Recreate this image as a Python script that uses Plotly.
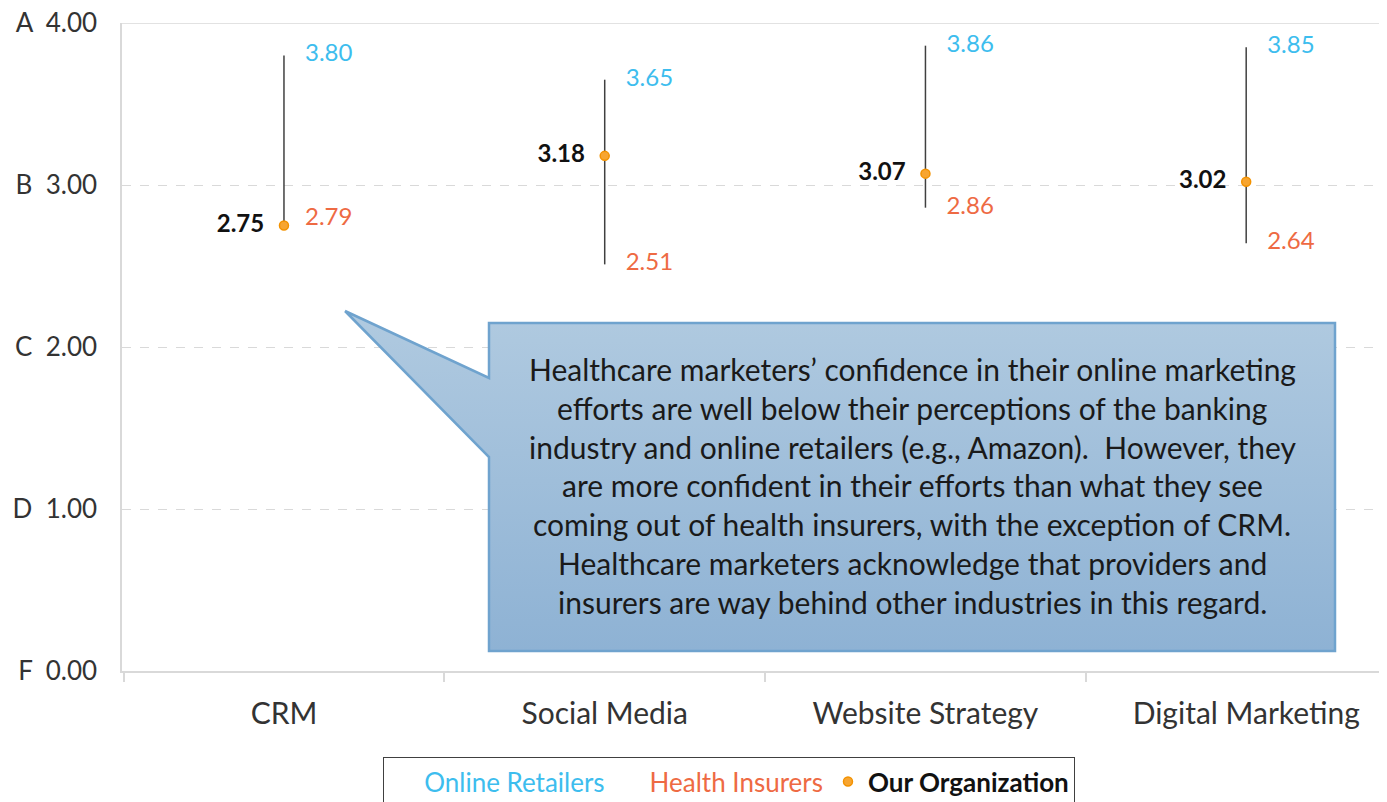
import plotly.graph_objects as go

categories = ["CRM", "Social Media", "Website Strategy", "Digital Marketing"]
online_retailers = [3.80, 3.65, 3.86, 3.85]
health_insurers = [2.79, 2.51, 2.86, 2.64]
our_organization = [2.75, 3.18, 3.07, 3.02]
y_tickvals = [0, 1, 2, 3, 4]
y_ticktext = ["F  0.00", "D  1.00", "C  2.00", "B  3.00", "A  4.00"]
callout_lines = [
    "Healthcare marketers’ confidence in their online marketing",
    "efforts are well below their perceptions of the banking",
    "industry and online retailers (e.g., Amazon).  However, they",
    "are more confident in their efforts than what they see",
    "coming out of health insurers, with the exception of CRM.",
    "Healthcare marketers acknowledge that providers and",
    "insurers are way behind other industries in this regard.",
]

FONT = "Lato"
W, H = 1387, 802
OFF = 8  # page body margin
ML, MR, MT, MB = 122 - OFF, OFF, 23 - OFF, 131 + OFF

xs = list(range(len(categories)))

fig = go.Figure()

# high-low lines
lx, ly = [], []
for i in xs:
    vals = [online_retailers[i], health_insurers[i], our_organization[i]]
    lx += [i, i, None]
    ly += [max(vals), min(vals), None]
fig.add_trace(go.Scatter(x=lx, y=ly, mode="lines", line=dict(color="#404040", width=1.5),
                         showlegend=False, hoverinfo="skip"))

# callout (pixel coordinates on overlay axes)
cx = [345, 489, 489, 1335, 1335, 489, 489, 345]
cy = [311, 378, 323, 323, 651, 651, 457, 311]
fig.add_trace(go.Scatter(x=cx, y=cy, xaxis="x2", yaxis="y2", mode="lines", fill="toself",
                         line=dict(color="#6FA3CE", width=2.5),
                         fillgradient=dict(type="vertical", start=311, stop=651,
                                           colorscale=[[0, "#B0CAE0"], [1, "#8EB2D4"]]),
                         showlegend=False, hoverinfo="skip"))

CLEAR = "rgba(0,0,0,0)"
fig.add_trace(go.Scatter(
    x=xs, y=online_retailers, mode="markers+text",
    name="<span style='color:#3DBDEE'>Online Retailers</span>",
    text=[f"{v:.2f}" for v in online_retailers], textposition="middle right",
    textfont=dict(family=FONT, size=24, color="#3DBDEE"),
    marker=dict(size=32, color=CLEAR, line=dict(width=0)), hoverinfo="skip"))
fig.add_trace(go.Scatter(
    x=xs, y=health_insurers, mode="markers+text",
    name="<span style='color:#EE6A43'>Health Insurers</span>",
    text=[f"{v:.2f}" for v in health_insurers], textposition="middle right",
    textfont=dict(family=FONT, size=24, color="#EE6A43"),
    marker=dict(size=32, color=CLEAR, line=dict(width=0)), hoverinfo="skip"))
fig.add_trace(go.Scatter(
    x=xs, y=our_organization, mode="markers+text", showlegend=False,
    text=[f"<b>{v:.2f}</b>" for v in our_organization], textposition="middle left",
    textfont=dict(family=FONT, size=24, color="#111111"),
    marker=dict(size=30, color=CLEAR, line=dict(width=0)), hoverinfo="skip"))
fig.add_trace(go.Scatter(
    x=xs, y=our_organization, mode="markers",
    name="<b><span style='color:#111111'>Our Organization</span></b>",
    marker=dict(size=9, color="#F7A531", line=dict(color="#F39200", width=1.5)),
    hoverinfo="skip"))

annotations = []
top_line = 369
step = 38.8
for k, t in enumerate(callout_lines):
    annotations.append(dict(
        x=912, y=top_line + k * step, xref="x2", yref="y2", text=t, showarrow=False,
        xanchor="center", yanchor="middle",
        font=dict(family=FONT, size=30, color="#1a1a1a")))

fig.update_layout(
    width=W, height=H,
    margin=dict(l=ML, r=MR, t=MT, b=MB, autoexpand=False),
    paper_bgcolor="white", plot_bgcolor="white",
    font=dict(family=FONT, color="#333333"),
    xaxis=dict(range=[-0.505, 3.439], tickmode="array", tickvals=xs, ticktext=categories,
               ticks="", showgrid=False, zeroline=False, showline=True,
               linecolor="#D9D9D9", linewidth=1.5,
               tickfont=dict(family=FONT, size=30, color="#333333"),
               ticklabelstandoff=15,
               minor=dict(tickmode="linear", tick0=0.5, dtick=1, ticks="outside",
                          ticklen=9, tickcolor="#D9D9D9", tickwidth=1.5, showgrid=False)),
    yaxis=dict(range=[0, 4], tickmode="array", tickvals=y_tickvals, ticktext=y_ticktext,
               ticks="", showgrid=True, gridcolor="#D9D9D9", griddash="dash", gridwidth=1,
               zeroline=False, showline=True, linecolor="#D9D9D9", linewidth=1.5,
               tickfont=dict(family=FONT, size=26, color="#333333"),
               ticklabelstandoff=18, ticklabeloverflow="allow"),
    xaxis2=dict(range=[122, 1387], overlaying="x", visible=False, fixedrange=True),
    yaxis2=dict(range=[671, 23], overlaying="y", visible=False, fixedrange=True),
    shapes=[dict(type="line", xref="paper", yref="y", x0=0, x1=1, y0=4, y1=4,
                 line=dict(color="#D9D9D9", width=1.5))],
    annotations=annotations,
    legend=dict(orientation="h", x=0.48, xanchor="center", y=-0.133, yanchor="top",
                bordercolor="#404040", borderwidth=1, bgcolor="white",
                font=dict(family=FONT, size=26, color="#111111")),
    hovermode=False,
)

fig.write_html("out.html")
